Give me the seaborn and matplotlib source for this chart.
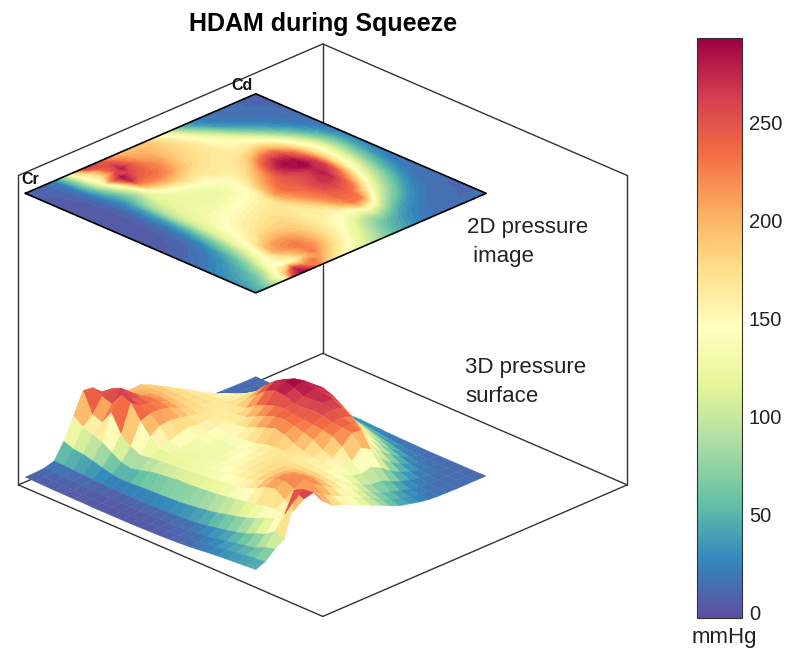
import numpy as np
import seaborn as sns
import matplotlib.pyplot as plt
from matplotlib.cm import ScalarMappable
from matplotlib.colors import Normalize

# position along the Cr-Cd edge (rows) and the Cr-front edge (columns)
grid_pos = [i / 24 for i in range(25)]

pressure = [
    [8, 7, 6, 5, 5, 4, 4, 3, 3, 3, 3, 3, 4, 5, 6, 8, 10, 13, 17, 22, 26, 29, 32, 35, 38],
    [9, 8, 7, 6, 5, 4, 4, 4, 3, 3, 3, 4, 5, 6, 7, 9, 12, 16, 21, 28, 34, 40, 45, 50, 55],
    [12, 11, 10, 8, 7, 6, 5, 5, 5, 5, 5, 5, 6, 8, 9, 12, 16, 22, 28, 36, 44, 52, 60, 80, 90],
    [24, 22, 20, 18, 15, 13, 12, 12, 12, 12, 13, 14, 15, 17, 20, 24, 30, 38, 46, 56, 68, 85, 100, 130, 115],
    [90, 75, 70, 60, 48, 38, 32, 34, 36, 38, 40, 42, 44, 48, 54, 60, 68, 78, 88, 100, 115, 135, 150, 185, 260],
    [180, 150, 135, 120, 95, 70, 62, 72, 84, 90, 95, 100, 100, 104, 108, 112, 118, 125, 132, 140, 150, 155, 145, 270, 290],
    [270, 185, 170, 230, 155, 120, 100, 108, 112, 115, 118, 122, 125, 130, 135, 140, 145, 155, 170, 195, 205, 175, 150, 215, 260],
    [265, 245, 230, 285, 270, 210, 160, 128, 125, 122, 125, 128, 132, 138, 146, 155, 160, 170, 190, 215, 220, 205, 190, 230, 205],
    [230, 260, 280, 255, 240, 225, 190, 142, 128, 124, 125, 128, 133, 142, 152, 160, 168, 178, 195, 215, 228, 228, 225, 200, 170],
    [205, 225, 245, 240, 235, 225, 195, 155, 132, 125, 125, 128, 136, 146, 156, 165, 172, 180, 192, 205, 212, 215, 200, 175, 155],
    [195, 205, 215, 225, 225, 215, 190, 168, 140, 128, 125, 130, 140, 150, 160, 170, 175, 180, 185, 188, 190, 185, 175, 155, 135],
    [188, 200, 205, 210, 205, 195, 178, 160, 145, 135, 130, 134, 144, 155, 162, 168, 170, 172, 172, 172, 170, 165, 155, 135, 118],
    [190, 193, 193, 190, 186, 180, 172, 165, 155, 142, 142, 146, 152, 165, 170, 170, 165, 160, 160, 158, 155, 145, 130, 115, 100],
    [172, 183, 183, 180, 176, 172, 168, 165, 160, 158, 165, 185, 200, 215, 205, 185, 170, 162, 158, 150, 140, 125, 108, 95, 82],
    [140, 162, 172, 172, 172, 168, 165, 165, 167, 175, 195, 215, 230, 235, 225, 215, 200, 175, 160, 140, 120, 100, 85, 72, 62],
    [95, 130, 152, 160, 163, 165, 166, 170, 178, 205, 225, 240, 245, 240, 235, 230, 225, 215, 190, 145, 110, 82, 65, 52, 45],
    [50, 85, 118, 140, 150, 155, 162, 180, 215, 250, 270, 265, 250, 250, 255, 250, 240, 235, 230, 185, 120, 80, 52, 42, 35],
    [28, 45, 80, 112, 135, 150, 165, 195, 240, 275, 290, 280, 262, 265, 270, 260, 245, 235, 225, 160, 100, 62, 38, 30, 25],
    [20, 25, 40, 70, 105, 135, 160, 195, 235, 265, 285, 295, 275, 280, 270, 250, 230, 190, 145, 105, 70, 42, 28, 22, 18],
    [16, 18, 25, 38, 65, 100, 135, 165, 195, 225, 245, 262, 265, 250, 225, 195, 165, 130, 100, 72, 48, 30, 20, 18, 15],
    [14, 15, 18, 24, 38, 60, 92, 125, 150, 165, 175, 180, 175, 165, 150, 130, 110, 90, 70, 48, 32, 22, 16, 14, 14],
    [13, 13, 15, 18, 24, 36, 55, 80, 105, 125, 135, 130, 125, 118, 105, 90, 75, 58, 42, 30, 22, 16, 14, 13, 13],
    [12, 12, 13, 15, 18, 22, 32, 45, 62, 78, 85, 85, 78, 72, 62, 52, 42, 32, 24, 18, 15, 14, 13, 12, 13],
    [11, 11, 12, 13, 14, 16, 20, 26, 34, 42, 46, 46, 42, 38, 32, 26, 22, 18, 15, 13, 13, 12, 12, 12, 13],
    [12, 11, 11, 11, 12, 12, 14, 16, 18, 20, 22, 22, 20, 18, 16, 15, 14, 13, 12, 12, 12, 12, 12, 12, 13],
]

cbar_ticks = [0, 50, 100, 150, 200, 250]
value_range = (-3, 293)
x_limits = (-0.015, 1.306)
y_limits = (-0.015, 1.306)
z_limits = (-25, 1290)
image_level = 1214

sns.set_theme(style="white")
plt.rcParams["font.family"] = ["Liberation Sans", "DejaVu Sans"]

W, H = 800, 659
fig = plt.figure(figsize=(W / 100, H / 100), dpi=100)

cmap = sns.color_palette("Spectral_r", as_cmap=True)
norm = Normalize(*value_range)

ax = fig.add_axes([(312 - 400) / W, 1 - (341 + 400) / H, 800 / W, 800 / H], projection="3d")
ax.computed_zorder = False
ax.set_proj_type("ortho")
ax.view_init(elev=25.6, azim=-45)
ax.set_xlim(*x_limits)
ax.set_ylim(*y_limits)
ax.set_zlim(*z_limits)
ax.set_box_aspect((1, 1, 0.797), zoom=0.848)
ax.set_axis_off()
ax.patch.set_alpha(0)

X, Y = np.meshgrid(grid_pos, grid_pos)
Z = np.array(pressure, dtype=float)

# box edges
x0, x1 = x_limits
y0, y1 = y_limits
z0, z1 = z_limits
edges = [
    ((x0, x0), (y1, y1), (z0, z1)),
    ((x0, x0), (y0, y0), (z0, z1)),
    ((x1, x1), (y1, y1), (z0, z1)),
    ((x0, x0), (y0, y1), (z1, z1)),
    ((x0, x1), (y1, y1), (z1, z1)),
    ((x0, x0), (y0, y1), (z0, z0)),
    ((x0, x1), (y1, y1), (z0, z0)),
    ((x0, x1), (y0, y0), (z0, z0)),
    ((x1, x1), (y0, y1), (z0, z0)),
]
for ex, ey, ez in edges:
    ax.plot(ex, ey, ez, color="#333333", lw=1.0, zorder=1)

ax.contourf(X, Y, Z, levels=np.linspace(*value_range, 60), zdir="z", offset=image_level,
            cmap=cmap, norm=norm, zorder=2)
ax.plot([0, 1, 1, 0, 0], [0, 0, 1, 1, 0], [image_level] * 5, color="black", lw=1.2, zorder=3)

surf = ax.plot_surface(X, Y, Z, rstride=1, cstride=1, cmap=cmap, norm=norm, shade=False,
                       linewidth=0.3, antialiased=True, zorder=4)
surf.set_edgecolor("face")

fig.text(323 / W, 1 - 24 / H, "HDAM during Squeeze", ha="center", va="center",
         fontsize=18, fontweight="bold", color="black")
fig.text(30 / W, 1 - 180 / H, "Cr", ha="center", va="center", fontsize=11.5, fontweight="bold", color="#111111")
fig.text(242 / W, 1 - 86 / H, "Cd", ha="center", va="center", fontsize=11.5, fontweight="bold", color="#111111")
fig.text(467 / W, 1 - 242 / H, "2D pressure\n image", ha="left", va="center", fontsize=16,
         linespacing=1.45, color="#222222")
fig.text(465 / W, 1 - 382 / H, "3D pressure\nsurface", ha="left", va="center", fontsize=16,
         linespacing=1.45, color="#222222")

cax = fig.add_axes([697 / W, 1 - 618 / H, 45 / W, 580 / H])
cbar = fig.colorbar(ScalarMappable(norm=norm, cmap=cmap), cax=cax, ticks=cbar_ticks)
cbar.outline.set_edgecolor("#333333")
cbar.outline.set_linewidth(0.8)
cax.tick_params(axis="y", direction="in", length=5, width=0.8, pad=5, labelsize=14.5, colors="#222222", right=True)
fig.text(724 / W, 1 - 638 / H, "mmHg", ha="center", va="center", fontsize=16, color="#222222")

fig.savefig("out.png", dpi=100)
